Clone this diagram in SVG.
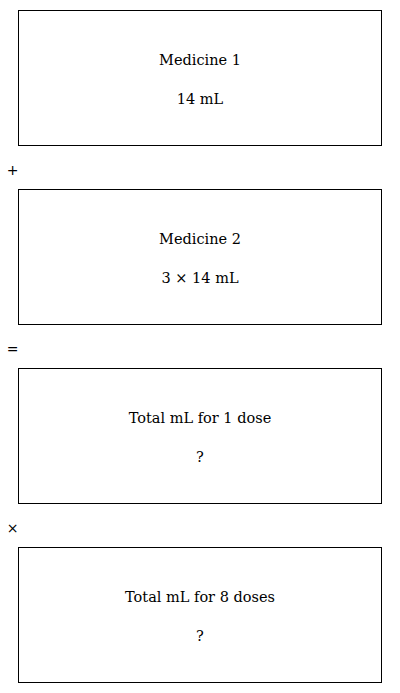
<svg xmlns="http://www.w3.org/2000/svg" width="400" height="693" viewBox="0 0 400 693">
<style>
.box{fill:#fff;stroke:#000;stroke-width:1}
.t{font-family:"DejaVu Serif","Liberation Serif",serif;font-size:14.5px;fill:#000;text-anchor:middle}
.op{font-family:"DejaVu Sans","Liberation Sans",sans-serif;font-size:14px;fill:#000;text-anchor:middle}
</style>
<rect width="400" height="693" fill="#fff"/>
<g id="medicine1">
<rect class="box" x="18.5" y="10.5" width="363" height="135"/>
<text class="t" x="200" y="65">Medicine 1</text>
<text class="t" x="200" y="104">14 mL</text>
</g>
<g id="medicine2">
<rect class="box" x="18.5" y="189.5" width="363" height="135"/>
<text class="t" x="200" y="244">Medicine 2</text>
<text class="t" x="200" y="283">3 × 14 mL</text>
</g>
<g id="total1">
<rect class="box" x="18.5" y="368.5" width="363" height="135"/>
<text class="t" x="200" y="423">Total mL for 1 dose</text>
<text class="t" x="200" y="462">?</text>
</g>
<g id="total8">
<rect class="box" x="18.5" y="547.5" width="363" height="135"/>
<text class="t" x="200" y="602">Total mL for 8 doses</text>
<text class="t" x="200" y="641">?</text>
</g>
<g id="connectors">
<text class="op" x="12.5" y="175">+</text>
<text class="op" x="12.5" y="354">=</text>
<text class="op" x="12.5" y="533">×</text>
</g>
</svg>
